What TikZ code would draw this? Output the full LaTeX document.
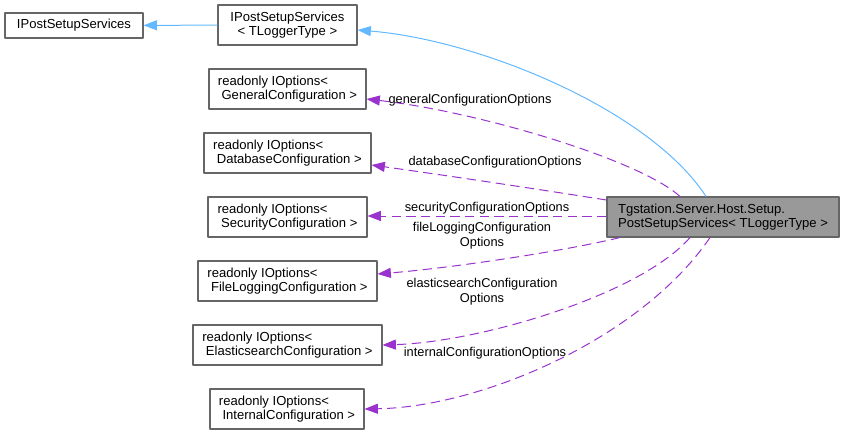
\documentclass[tikz,border=0pt]{standalone}
\usepackage{fontspec}
\setmainfont{Liberation Sans}
\usetikzlibrary{arrows.meta,calc}
\definecolor{inhblue}{HTML}{63B8FF}
\definecolor{usepurple}{HTML}{9A32CD}
\definecolor{boxgray}{HTML}{666666}
\begin{document}
\begin{tikzpicture}[x=0.75pt, y=-0.75pt, line join=round, font=\fontsize{9.8}{11}\selectfont,
	box/.style={draw=boxgray, line width=0.8pt, inner sep=0pt, align=left},
	mainbox/.style={box, fill=black!40},
	inherit/.style={draw=inhblue, line width=0.75pt, -{Triangle[length=10pt,width=7.5pt]}},
	member/.style={draw=usepurple, line width=0.75pt, dash pattern=on 7pt off 4pt, -{Triangle[length=10pt,width=7.5pt]}},
	elabel/.style={align=center, inner sep=0pt, font=\fontsize{9.6}{11}\selectfont}]
	\useasboundingbox (0,0) rectangle (845,435);
	\node[box, minimum width=138*0.75pt, minimum height=25*0.75pt] (ipss) at (74,25.5) {IPostSetupServices};
	\node[box, align=center, minimum width=139*0.75pt, minimum height=40*0.75pt] (tlog) at (287.5,25) {IPostSetupServices\\< TLoggerType >};
	\node[box, minimum width=157*0.75pt, minimum height=40*0.75pt] (general) at (287.5,89) {readonly IOptions<\\\ GeneralConfiguration >};
	\node[box, minimum width=167*0.75pt, minimum height=40*0.75pt] (database) at (287.5,153) {readonly IOptions<\\\ DatabaseConfiguration >};
	\node[box, minimum width=159*0.75pt, minimum height=40*0.75pt] (security) at (287.5,217) {readonly IOptions<\\\ SecurityConfiguration >};
	\node[box, minimum width=179*0.75pt, minimum height=40*0.75pt] (filelog) at (287.5,281) {readonly IOptions<\\\ FileLoggingConfiguration >};
	\node[box, minimum width=189*0.75pt, minimum height=40*0.75pt] (elastic) at (287.5,345) {readonly IOptions<\\\ ElasticsearchConfiguration >};
	\node[box, minimum width=154*0.75pt, minimum height=40*0.75pt] (internal) at (287,409) {readonly IOptions<\\\ InternalConfiguration >};
	\node[mainbox, minimum width=232*0.75pt, minimum height=40*0.75pt] (main) at (723,217) {Tgstation.Server.Host.Setup.\\PostSetupServices< TLoggerType >};
	\draw[inherit] (tlog) -- (ipss);
	\draw[inherit] ($(main.north)+(-17,0)$) .. controls (650,110) and (480,40) .. ($(tlog.east)+(0,5)$);
	\draw[member] ($(main.north)+(-43,0)$) .. controls (640,160) and (480,112) .. ($(general.east)+(0,10)$);
	\draw[member] ($(main.west)+(0,-17)$) .. controls (530,188) and (450,176) .. ($(database.east)+(0,12)$);
	\draw[member] ($(main.west)+(0,-1)$) -- ($(security.east)+(0,-1)$);
	\draw[member] ($(main.south)+(-103,0)$) .. controls (560,252) and (450,268) .. ($(filelog.east)+(0,-7)$);
	\draw[member] ($(main.south)+(-33,0)$) .. controls (640,295) and (480,342) .. (elastic.east);
	\draw[member] ($(main.south)+(-13,0)$) .. controls (640,340) and (480,407) .. (internal.east);
	\node[elabel] (lgeneral) at (470,100) {generalConfigurationOptions};
	\node[elabel] (ldatabase) at (495,162) {databaseConfigurationOptions};
	\node[elabel] (lsecurity) at (487,208) {securityConfigurationOptions};
	\node[elabel] (lfilelog) at (482,236) {fileLoggingConfiguration\\Options};
	\node[elabel] (lelastic) at (482,292) {elasticsearchConfiguration\\Options};
	\node[elabel] (linternal) at (485,353) {internalConfigurationOptions};
\end{tikzpicture}
\end{document}
